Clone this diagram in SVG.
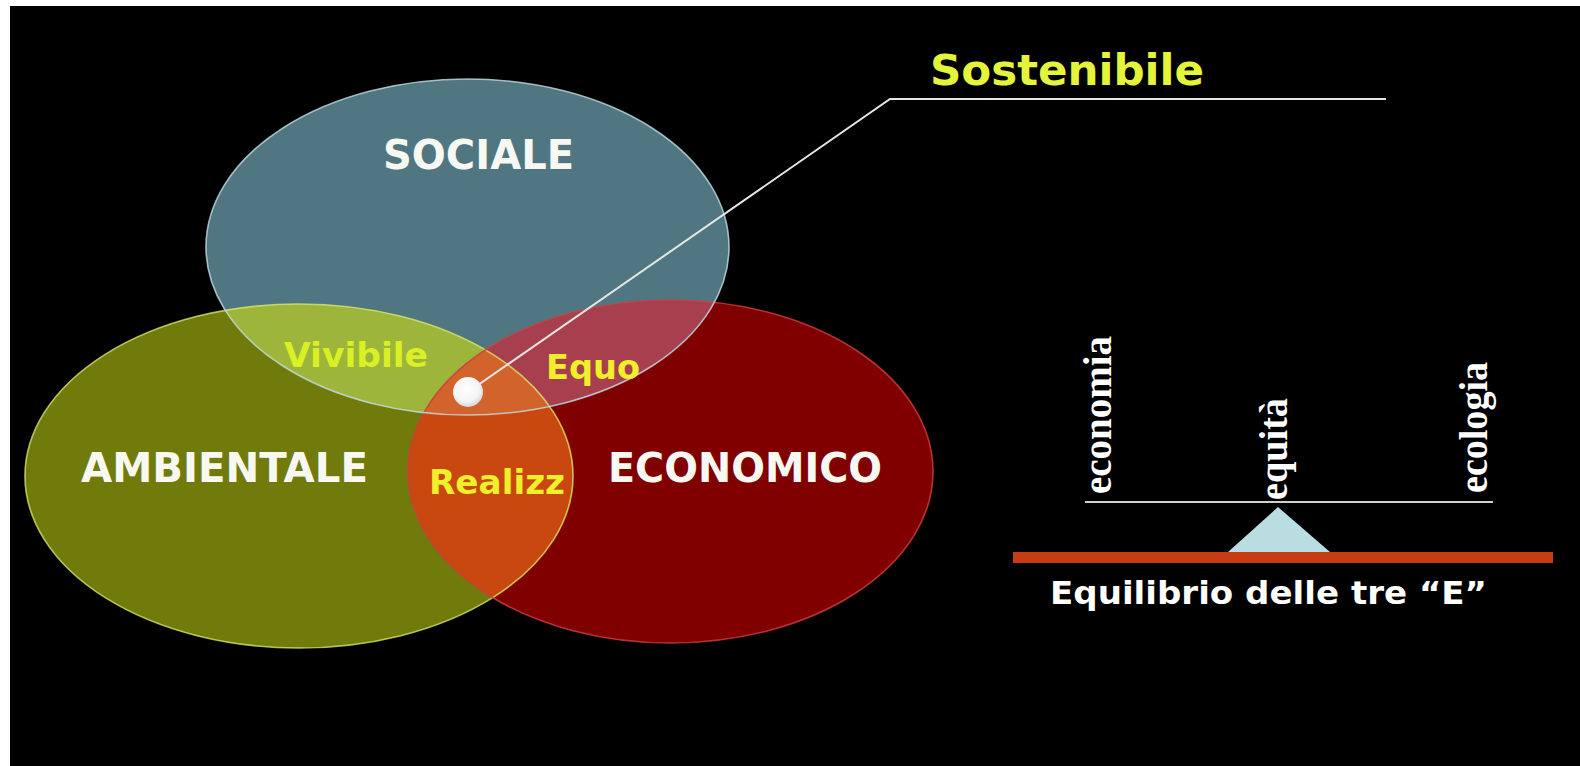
<svg xmlns="http://www.w3.org/2000/svg" width="1580" height="766" viewBox="0 0 1580 766">
  <defs>
    <clipPath id="clipS"><ellipse cx="467.5" cy="247" rx="261.5" ry="168"/></clipPath>
    <clipPath id="clipA"><ellipse cx="299" cy="476" rx="274" ry="172"/></clipPath>
    <clipPath id="clipE"><ellipse cx="670.5" cy="471.5" rx="262.5" ry="171.5"/></clipPath>
    <radialGradient id="dotGrad" cx="0.45" cy="0.4" r="0.6">
      <stop offset="0" stop-color="#ffffff"/>
      <stop offset="0.7" stop-color="#f4f4f4"/>
      <stop offset="1" stop-color="#d8d8d8"/>
    </radialGradient>
  </defs>
  <style>
    .lbl { font-family: "DejaVu Sans", Verdana, sans-serif; font-weight: bold; }
    .big { font-size: 40px; fill: #f8f8f2; }
    .mid { font-size: 33px; }
    .yel { fill: #eef02a; }
    .serif { font-family: "Liberation Serif", "Times New Roman", serif; font-weight: bold; font-size: 39px; fill: #ffffff; }
    .conn { fill: none; stroke: #e6e6e6; stroke-width: 2; }
  </style>

  <rect x="0" y="0" width="1580" height="766" fill="#ffffff"/>
  <rect x="10" y="6" width="1570" height="760" fill="#000000"/>

  <!-- base ellipses -->
  <g id="ambientale">
    <ellipse cx="299" cy="476" rx="274" ry="172" fill="#717b0b"/>
  </g>
  <g id="economico">
    <ellipse cx="670.5" cy="471.5" rx="262.5" ry="171.5" fill="#800000"/>
  </g>
  <g id="sociale">
    <ellipse cx="467.5" cy="247" rx="261.5" ry="168" fill="#4f7681"/>
  </g>

  <!-- overlaps -->
  <g id="overlaps">
    <ellipse cx="299" cy="476" rx="274" ry="172" fill="#9eb53c" clip-path="url(#clipS)"/>
    <ellipse cx="670.5" cy="471.5" rx="262.5" ry="171.5" fill="#a83f4e" clip-path="url(#clipS)"/>
    <ellipse cx="670.5" cy="471.5" rx="262.5" ry="171.5" fill="#c9480f" clip-path="url(#clipA)"/>
    <g clip-path="url(#clipS)">
      <ellipse cx="670.5" cy="471.5" rx="262.5" ry="171.5" fill="#d2632c" clip-path="url(#clipA)"/>
    </g>
  </g>

  <!-- outlines -->
  <g id="outlines" fill="none" stroke-width="1.6">
    <ellipse cx="299" cy="476" rx="274" ry="172" stroke="#d9e66a" stroke-opacity="0.8"/>
    <ellipse cx="670.5" cy="471.5" rx="262.5" ry="171.5" stroke="#d04040" stroke-opacity="0.8"/>
    <ellipse cx="467.5" cy="247" rx="261.5" ry="168" stroke="#c4dde2" stroke-opacity="0.8"/>
  </g>

  <!-- labels -->
  <text class="lbl big" x="383" y="169" textLength="191" lengthAdjust="spacingAndGlyphs">SOCIALE</text>
  <text class="lbl big" x="81" y="482" textLength="287" lengthAdjust="spacingAndGlyphs">AMBIENTALE</text>
  <text class="lbl big" x="608" y="482" textLength="274" lengthAdjust="spacingAndGlyphs">ECONOMICO</text>
  <text class="lbl mid" x="284" y="367" fill="#d9f024" textLength="144" lengthAdjust="spacingAndGlyphs">Vivibile</text>
  <text class="lbl mid yel" x="546" y="379" textLength="94" lengthAdjust="spacingAndGlyphs">Equo</text>
  <text class="lbl mid yel" x="429" y="494" textLength="136" lengthAdjust="spacingAndGlyphs">Realizz</text>

  <!-- connector -->
  <g id="connectors">
    <polyline class="conn" points="468,392 890,99 1386,99"/>
  </g>
  <g id="dot">
    <circle cx="468" cy="392" r="15" fill="url(#dotGrad)"/>
  </g>
  <g id="sostenibile">
    <text class="lbl" x="930" y="85" font-size="42" fill="#e4f43a" textLength="274" lengthAdjust="spacingAndGlyphs">Sostenibile</text>
  </g>

  <!-- balance -->
  <g id="balance">
    <line x1="1085" y1="502" x2="1493" y2="502" stroke="#d0d0d0" stroke-width="2"/>
    <polygon points="1278,507 1228,552 1330,552" fill="#b9dde0"/>
    <rect x="1013" y="552" width="540" height="11" fill="#c83c14"/>
    <text class="serif" transform="translate(1111,494) rotate(-90)" textLength="158" lengthAdjust="spacingAndGlyphs">economia</text>
    <text class="serif" transform="translate(1287,500) rotate(-90)" textLength="102" lengthAdjust="spacingAndGlyphs">equità</text>
    <text class="serif" transform="translate(1487,493) rotate(-90)" textLength="131" lengthAdjust="spacingAndGlyphs">ecologia</text>
    <text class="lbl" x="1050" y="604" font-size="32" fill="#ffffff" textLength="437" lengthAdjust="spacingAndGlyphs">Equilibrio delle tre “E”</text>
  </g>
</svg>
